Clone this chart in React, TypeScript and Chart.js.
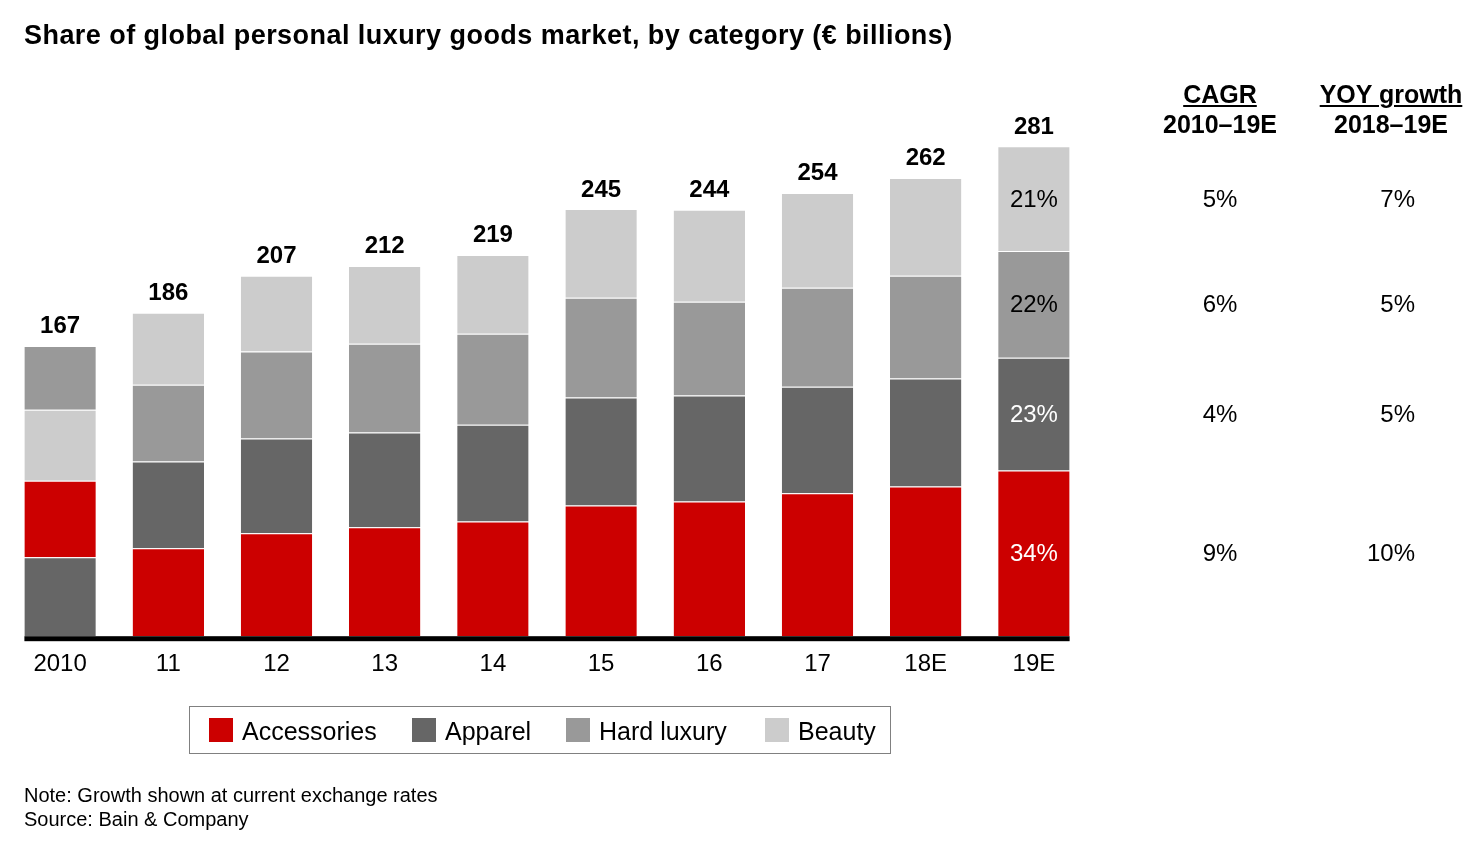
import React, { useEffect, useRef } from "react";
import { Chart, registerables } from "chart.js";

Chart.register(...registerables);

// ---------- data ----------
const years = ["2010", "11", "12", "13", "14", "15", "16", "17", "18E", "19E"];
const totals = ["167", "186", "207", "212", "219", "245", "244", "254", "262", "281"];
const categories = ["Accessories", "Apparel", "Hard luxury", "Beauty"];
const accessories = [44.0, 50.4, 59.0, 62.4, 65.8, 75.0, 77.3, 81.9, 85.9, 95.0];
const apparel = [45.2, 49.8, 54.4, 54.4, 55.5, 61.8, 60.7, 61.2, 61.8, 64.7];
const hardLuxury = [36.6, 44.0, 49.8, 50.9, 52.1, 57.2, 53.8, 56.7, 59.0, 61.2];
const beauty = [40.6, 41.2, 43.5, 44.6, 45.2, 50.9, 52.7, 54.4, 56.1, 60.1];
const share19E = ["34%", "23%", "22%", "21%"];
const cagr = ["9%", "4%", "6%", "5%"];
const yoy = ["10%", "5%", "5%", "7%"];

const colors = ["#CC0000", "#666666", "#999999", "#CCCCCC"];
const shareLabelColors = ["#FFFFFF", "#FFFFFF", "#000000", "#000000"];
const FONT = '"Liberation Sans", Arial, Helvetica, sans-serif';

const series = [accessories, apparel, hardLuxury, beauty];
const onlyFirst = (arr: number[]) => arr.map((v, i) => (i === 0 ? v : null));
const exceptFirst = (arr: number[]) => arr.map((v, i) => (i === 0 ? null : v));

// stacking order (2010 bar is stacked differently in the original)
const stackPlan: { cat: number; data: (number | null)[] }[] = [
  { cat: 1, data: onlyFirst(apparel) },
  { cat: 0, data: accessories },
  { cat: 1, data: exceptFirst(apparel) },
  { cat: 3, data: onlyFirst(beauty) },
  { cat: 2, data: hardLuxury },
  { cat: 3, data: exceptFirst(beauty) },
];

const labelsPlugin = {
  id: "customLabels",
  afterDatasetsDraw(chart: any) {
    const ctx = chart.ctx as CanvasRenderingContext2D;
    const yScale = chart.scales.y;
    const n = years.length;
    const refMeta = chart.getDatasetMeta(1);
    const first = refMeta.data[0];
    const lastEl = refMeta.data[n - 1];
    const x0 = first.x - first.width / 2;
    const x1 = lastEl.x + lastEl.width / 2;
    ctx.save();
    ctx.fillStyle = "#000";
    ctx.fillRect(x0, chart.chartArea.bottom, x1 - x0, 5);

    // totals
    ctx.font = `bold 24px ${FONT}`;
    ctx.textAlign = "center";
    ctx.textBaseline = "alphabetic";
    for (let i = 0; i < n; i++) {
      const sum = series.reduce((s, arr) => s + arr[i], 0);
      ctx.fillText(totals[i], refMeta.data[i].x, yScale.getPixelForValue(sum) - 12.5);
    }

    // 19E shares and side table
    const li = n - 1;
    categories.forEach((_, c) => {
      const dsIdx = chart.data.datasets.findIndex(
        (d: any) => d.catIndex === c && d.data[li] != null
      );
      const el = chart.getDatasetMeta(dsIdx).data[li];
      const cy = (el.y + el.base) / 2 + 1.5;
      ctx.font = `24px ${FONT}`;
      ctx.textBaseline = "middle";
      ctx.textAlign = "center";
      ctx.fillStyle = shareLabelColors[c];
      ctx.fillText(share19E[c], el.x, cy);
      ctx.fillStyle = "#000";
      ctx.fillText(cagr[c], 1220, cy);
      ctx.textAlign = "right";
      ctx.fillText(yoy[c], 1415, cy);
    });
    ctx.restore();
  },
};

const legendSquares = [209, 412, 566, 765];

export default function App() {
  const canvasRef = useRef<HTMLCanvasElement | null>(null);

  useEffect(() => {
    if (!canvasRef.current) return;
    const chart = new Chart(canvasRef.current, {
      type: "bar",
      data: {
        labels: years,
        datasets: stackPlan.map((p) => ({
          label: categories[p.cat],
          catIndex: p.cat,
          data: p.data,
          backgroundColor: colors[p.cat],
          borderColor: "rgba(255,255,255,0.6)",
          borderWidth: { top: 1, left: 0, right: 0, bottom: 0 },
          borderSkipped: false,
          categoryPercentage: 1,
          barPercentage: 0.66,
        })) as any,
      },
      options: {
        responsive: false,
        animation: false,
        devicePixelRatio: 1,
        layout: { padding: { left: 6, right: 394, top: 113, bottom: 156 } },
        plugins: { legend: { display: false }, tooltip: { enabled: false } },
        scales: {
          x: {
            stacked: true,
            grid: { display: false, drawTicks: false },
            border: { display: false },
            ticks: { color: "#000", font: { family: FONT, size: 24 }, padding: 14 },
          },
          y: { stacked: true, display: false, min: 0, max: 300 },
        },
      },
      plugins: [labelsPlugin],
    });
    return () => chart.destroy();
  }, []);

  const abs = (o: React.CSSProperties): React.CSSProperties => ({ position: "absolute", ...o });

  return (
    <div
      style={{
        position: "fixed",
        left: 0,
        top: 0,
        width: 1482,
        height: 849,
        background: "#fff",
        fontFamily: FONT,
        color: "#000",
        overflow: "hidden",
      }}
    >
      <canvas ref={canvasRef} width={1482} height={849} style={abs({ left: 0, top: 0 })} />
      <div style={abs({ left: 24, top: 21.6, fontSize: 27, lineHeight: "27px", fontWeight: "bold", whiteSpace: "nowrap", letterSpacing: 0.45 })}>
        Share of global personal luxury goods market, by category (€ billions)
      </div>

      <div style={abs({ left: 1070, width: 300, top: 82, fontSize: 25, lineHeight: "25px", fontWeight: "bold", textAlign: "center" })}>
        <span style={{ textDecoration: "underline", textDecorationThickness: 2, textUnderlineOffset: 2 }}>CAGR</span>
      </div>
      <div style={abs({ left: 1070, width: 300, top: 112, fontSize: 25, lineHeight: "25px", fontWeight: "bold", textAlign: "center" })}>
        2010–19E
      </div>
      <div style={abs({ left: 1241, width: 300, top: 82, fontSize: 25, lineHeight: "25px", fontWeight: "bold", textAlign: "center" })}>
        <span style={{ textDecoration: "underline", textDecorationThickness: 2, textUnderlineOffset: 2 }}>YOY growth</span>
      </div>
      <div style={abs({ left: 1241, width: 300, top: 112, fontSize: 25, lineHeight: "25px", fontWeight: "bold", textAlign: "center" })}>
        2018–19E
      </div>

      <div style={abs({ left: 189, top: 706, width: 700, height: 46, border: "1px solid #808080", boxSizing: "content-box" })} />
      {categories.map((c, i) => (
        <React.Fragment key={c}>
          <div style={abs({ left: legendSquares[i], top: 718, width: 24, height: 24, background: colors[i] })} />
          <div style={abs({ left: legendSquares[i] + 33, top: 718.5, fontSize: 25, lineHeight: "25px", whiteSpace: "nowrap" })}>
            {c}
          </div>
        </React.Fragment>
      ))}

      <div style={abs({ left: 24, top: 784.5, fontSize: 20, lineHeight: "20px", whiteSpace: "nowrap" })}>
        Note: Growth shown at current exchange rates
      </div>
      <div style={abs({ left: 24, top: 808.5, fontSize: 20, lineHeight: "20px", whiteSpace: "nowrap" })}>
        Source: Bain &amp; Company
      </div>
    </div>
  );
}
